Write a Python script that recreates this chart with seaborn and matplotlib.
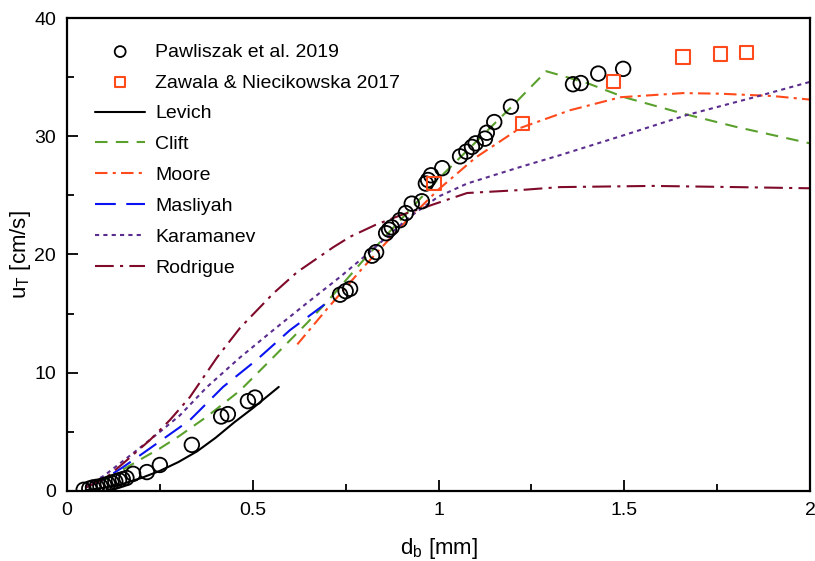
import numpy as np
import pandas as pd
import seaborn as sns
import matplotlib.pyplot as plt
from matplotlib.ticker import MultipleLocator

# measured data
paw_d = [0.045, 0.06, 0.07, 0.08, 0.09, 0.10, 0.11, 0.12, 0.13, 0.14, 0.15, 0.16,
         0.178, 0.215, 0.25, 0.336, 0.415, 0.433, 0.487, 0.506,
         0.735, 0.75, 0.762, 0.821, 0.832, 0.859, 0.867, 0.874, 0.896, 0.912,
         0.928, 0.955, 0.966, 0.972, 0.98, 1.01, 1.058, 1.075, 1.09, 1.10,
         1.125, 1.13, 1.15, 1.195, 1.362, 1.383, 1.43, 1.497]
paw_u = [0.1, 0.2, 0.3, 0.35, 0.4, 0.5, 0.6, 0.7, 0.8, 0.9, 1.0, 1.1,
         1.45, 1.6, 2.2, 3.9, 6.3, 6.5, 7.6, 7.9,
         16.6, 16.9, 17.1, 19.9, 20.2, 21.8, 22.1, 22.3, 22.9, 23.5,
         24.3, 24.5, 26.0, 26.3, 26.7, 27.3, 28.3, 28.7, 29.1, 29.4,
         29.8, 30.3, 31.2, 32.5, 34.4, 34.5, 35.3, 35.7]

zaw_d = [0.988, 1.225, 1.47, 1.658, 1.758, 1.83]
zaw_u = [26.0, 31.1, 34.6, 36.7, 36.95, 37.1]

# model curves
levich_d = [0.05, 0.1, 0.15, 0.2, 0.25, 0.3, 0.35, 0.4, 0.45, 0.5, 0.57]
levich_u = [0.07, 0.27, 0.6, 1.1, 1.7, 2.45, 3.35, 4.5, 5.8, 7.0, 8.8]

clift_d = [0.05, 0.1, 0.15, 0.205, 0.25, 0.3, 0.377, 0.466, 0.555, 0.646, 0.7, 0.8,
           0.9, 1.0, 1.1, 1.2, 1.29, 1.4, 1.5, 1.66, 1.8, 2.0]
clift_u = [0.3, 0.9, 1.8, 2.8, 3.6, 4.6, 6.3, 8.5, 11.3, 14.2, 16.0, 19.6,
           23.0, 26.4, 29.5, 32.6, 35.5, 34.5, 33.3, 31.9, 30.8, 29.4]

moore_d = [0.62, 0.7, 0.8, 0.9, 1.0, 1.1, 1.22, 1.354, 1.49, 1.658, 1.758, 1.9, 2.0]
moore_u = [12.4, 15.4, 19.0, 22.4, 25.5, 28.2, 30.7, 32.2, 33.3, 33.65, 33.6, 33.4, 33.1]

masl_d = [0.05, 0.1, 0.15, 0.205, 0.25, 0.331, 0.42, 0.511, 0.6, 0.703]
masl_u = [0.3, 1.0, 2.0, 3.2, 4.2, 6.0, 8.8, 11.1, 13.6, 16.0]

kara_d = [0.05, 0.1, 0.178, 0.25, 0.304, 0.377, 0.466, 0.555, 0.646, 0.735, 0.807,
          0.923, 1.0, 1.077, 1.22, 1.327, 1.5, 1.669, 1.85, 2.0]
kara_u = [0.4, 1.3, 3.2, 5.0, 6.4, 8.8, 11.3, 13.6, 15.9, 18.1, 20.0,
          23.2, 24.9, 26.0, 27.4, 28.4, 30.1, 31.8, 33.3, 34.6]

rodr_d = [0.05, 0.1, 0.15, 0.223, 0.277, 0.331, 0.404, 0.466, 0.555, 0.619, 0.716,
          0.762, 0.83, 0.896, 0.964, 1.077, 1.22, 1.327, 1.577, 1.8, 2.0]
rodr_u = [0.3, 1.0, 2.3, 4.3, 6.0, 7.95, 11.3, 13.8, 16.7, 18.5, 20.6,
          21.5, 22.5, 23.3, 24.0, 25.2, 25.45, 25.7, 25.8, 25.7, 25.6]

sns.set_theme(style="white")
plt.rcParams['font.family'] = ['Liberation Sans', 'DejaVu Sans']
plt.rcParams['mathtext.default'] = 'regular'
plt.rcParams['text.color'] = 'black'
plt.rcParams['axes.labelcolor'] = 'black'
plt.rcParams['xtick.color'] = 'black'
plt.rcParams['ytick.color'] = 'black'

fig = plt.figure(figsize=(8.15, 5.61), dpi=100)
ax = fig.add_axes([0.0822, 0.1248, 0.9117, 0.8431])

sns.scatterplot(x=paw_d, y=paw_u, ax=ax, marker='o', s=110, facecolor='none',
                edgecolor='black', linewidth=1.3, label='Pawliszak et al. 2019', zorder=5)
sns.scatterplot(x=zaw_d, y=zaw_u, ax=ax, marker='s', s=90, facecolor='none',
                edgecolor='#ff4a1c', linewidth=1.5, label='Zawala & Niecikowska 2017', zorder=5)

lw = 1.5
sns.lineplot(x=levich_d, y=levich_u, ax=ax, color='black', lw=lw, label='Levich')
sns.lineplot(x=clift_d, y=clift_u, ax=ax, color='#5aa02c', lw=lw, label='Clift')
ax.lines[-1].set_dashes([6, 4])
sns.lineplot(x=moore_d, y=moore_u, ax=ax, color='#ff4a1c', lw=lw, label='Moore')
ax.lines[-1].set_dashes([6, 2.5, 1.5, 2.5])
sns.lineplot(x=masl_d, y=masl_u, ax=ax, color='#0a14f0', lw=lw, label='Masliyah')
ax.lines[-1].set_dashes([10, 5])
sns.lineplot(x=kara_d, y=kara_u, ax=ax, color='#5b2d8e', lw=lw, label='Karamanev')
ax.lines[-1].set_dashes([2, 2])
sns.lineplot(x=rodr_d, y=rodr_u, ax=ax, color='#7f0a2a', lw=lw, label='Rodrigue')
ax.lines[-1].set_dashes([9, 3, 1.5, 3])

ax.set_xlim(0, 2)
ax.set_ylim(0, 40)
ax.xaxis.set_minor_locator(MultipleLocator(0.25))
ax.yaxis.set_major_locator(MultipleLocator(10))
ax.yaxis.set_minor_locator(MultipleLocator(5))
ax.set_xticks([0, 0.5, 1, 1.5, 2])
ax.set_xticklabels(['0', '0.5', '1', '1.5', '2'])
ax.tick_params(which='both', direction='in', top=False, right=False,
               bottom=True, left=True, labelsize=14, width=1.3)
ax.tick_params(which='major', length=8, pad=8)
ax.tick_params(which='minor', length=5)
for sp in ax.spines.values():
    sp.set_color('black')
    sp.set_linewidth(1.6)

ax.set_xlabel('d$_b$ [mm]', fontsize=16, labelpad=12)
ax.set_ylabel('u$_T$ [cm/s]', fontsize=16, labelpad=1)

ax.legend(loc='upper left', bbox_to_anchor=(0.014, 0.984), frameon=False, fontsize=14,
          handlelength=2.6, labelspacing=0.68, handletextpad=0.5, markerscale=0.75)

fig.savefig('out.png', dpi=100)
